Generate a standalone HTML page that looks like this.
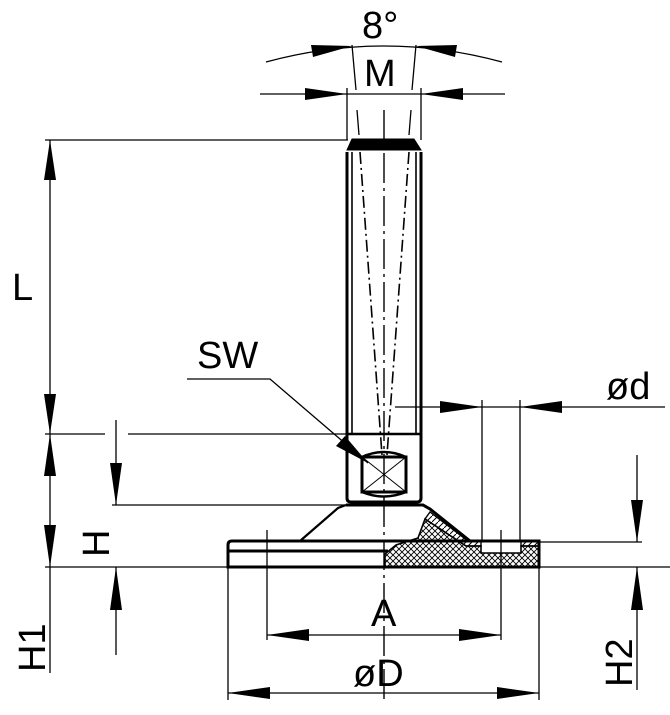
<!DOCTYPE html>
<html><head><meta charset="utf-8"><style>
html,body{margin:0;padding:0;background:#fff;}
svg{display:block;}
text{font-family:"Liberation Sans",sans-serif;fill:#000;}
</style></head><body>
<svg width="670" height="715" viewBox="0 0 670 715" xmlns="http://www.w3.org/2000/svg">
<defs>
<pattern id="xh" width="6" height="6" patternUnits="userSpaceOnUse">
<path d="M0,0 L6,6 M6,0 L0,6" stroke="#000" stroke-width="0.9"/>
</pattern>
<pattern id="hh" width="6" height="6" patternUnits="userSpaceOnUse">
<path d="M0,6 L6,0" stroke="#000" stroke-width="1"/>
</pattern>
</defs>
<g stroke="#000" fill="none" stroke-width="1.6">
<!-- stem -->
<path d="M347,152 L347,498 Q347,502 351,502 L417,502 Q421,502 421,498 L421,152" stroke-width="3"/>
<line x1="352" y1="152" x2="352" y2="434" stroke-width="1.6"/>
<line x1="416" y1="152" x2="416" y2="434" stroke-width="1.6"/>
<path d="M352,139 L414,139 L421,150 L347,150 Z" fill="#000" stroke-width="1"/>
<line x1="347" y1="434" x2="421" y2="434" stroke-width="2.5"/>
<!-- dash-dot lines -->
<line x1="360" y1="152" x2="382" y2="455" stroke-dasharray="12,4,2,4"/>
<line x1="409" y1="152" x2="387" y2="455" stroke-dasharray="12,4,2,4"/>
<line x1="384" y1="110" x2="384" y2="700" stroke-dasharray="30,5,3,5" stroke-width="1.4"/>
<!-- nut -->
<rect x="362" y="457" width="44" height="35" stroke-width="3"/>
<path d="M362,457 Q384,447 406,457 M362,492 Q384,501 406,492" stroke-width="2.5"/>
<line x1="362" y1="457" x2="406" y2="492" stroke-width="1"/>
<line x1="406" y1="457" x2="362" y2="492" stroke-width="1"/>
<!-- base cone -->
<path d="M346,505 L423,505 L430,509 L470,541" stroke-width="3"/>
<path d="M346,505 L338,508 L300,541" stroke-width="2.2"/>
<!-- plate -->
<path d="M232,541 L539,541 L539,567 L228,567 L228,545 Q228,541 232,541" stroke-width="3"/>
<line x1="228" y1="551" x2="388" y2="551" stroke-width="3"/>
<!-- hatched section -->
<path d="M385,567 L385,554 L396,545 L418,538 L425,519 L466,546 L481,546 L481,553 L521,553 L521,546 L539,546 L539,567 Z" fill="url(#xh)" stroke-width="1.6"/>
<path d="M425,519 L466,546 L481,546 L481,541 L468,541 L430,512 Z" fill="url(#hh)" stroke-width="1.4"/>
<path d="M521,541 L539,541 L539,546 L521,546 Z" fill="url(#hh)" stroke-width="1.4"/>
</g>
<g stroke="#000" fill="none" stroke-width="1.3">
<!-- ext lines -->
<line x1="45" y1="140" x2="348" y2="140"/>
<line x1="45" y1="434" x2="105" y2="434"/>
<line x1="128" y1="434" x2="346" y2="434"/>
<line x1="112" y1="505" x2="346" y2="505"/>
<line x1="45" y1="567" x2="670" y2="567"/>
<line x1="539" y1="542" x2="642" y2="542"/>
<!-- L -->
<line x1="50" y1="140" x2="50" y2="434"/>
<line x1="50" y1="434" x2="50" y2="673"/>
<!-- H -->
<line x1="116" y1="420" x2="116" y2="505"/>
<line x1="116" y1="567" x2="116" y2="655"/>
<!-- H2 -->
<line x1="637" y1="455" x2="637" y2="542"/>
<line x1="637" y1="567" x2="637" y2="690"/>
<!-- d -->
<line x1="395" y1="407" x2="665" y2="407"/>
<line x1="482" y1="400" x2="482" y2="541"/>
<line x1="520" y1="400" x2="520" y2="541"/>
<!-- A -->
<line x1="267" y1="530" x2="267" y2="640"/>
<line x1="501" y1="530" x2="501" y2="640"/>
<line x1="267" y1="635" x2="501" y2="635"/>
<!-- D -->
<line x1="228" y1="567" x2="228" y2="700"/>
<line x1="539" y1="567" x2="539" y2="700"/>
<line x1="228" y1="693" x2="539" y2="693"/>
<!-- M -->
<line x1="260" y1="94" x2="505" y2="94"/>
<line x1="347" y1="88" x2="347" y2="140"/>
<line x1="421" y1="88" x2="421" y2="140"/>
<!-- 8 deg -->
<path d="M266,62 Q384,30 502,62"/>
<line x1="352" y1="45" x2="356" y2="90"/>
<line x1="416" y1="45" x2="412" y2="90"/>
<line x1="357" y1="110" x2="359" y2="135"/>
<line x1="411" y1="110" x2="409" y2="135"/>
<!-- SW leader -->
<polyline points="187,379 270,379 368,463"/>
</g>
<g fill="#000">
<!-- L arrows -->
<polygon points="50,140 44,180 56,180"/>
<polygon points="50,434 44,394 56,394"/>
<polygon points="50,434 44,476 56,476"/>
<polygon points="50,567 44,525 56,525"/>
<!-- H -->
<polygon points="116,505 110,463 122,463"/>
<polygon points="116,567 110,610 122,610"/>
<!-- H2 -->
<polygon points="637,542 631,500 643,500"/>
<polygon points="637,567 631,610 643,610"/>
<!-- d -->
<polygon points="482,407 440,401 440,413"/>
<polygon points="520,407 562,401 562,413"/>
<!-- A -->
<polygon points="267,635 309,629 309,641"/>
<polygon points="501,635 459,629 459,641"/>
<!-- D -->
<polygon points="228,693 270,687 270,699"/>
<polygon points="539,693 497,687 497,699"/>
<!-- M -->
<polygon points="347,94 305,88 305,100"/>
<polygon points="421,94 463,88 463,100"/>
<!-- 8 deg -->
<polygon points="352,46 311,45 313,57"/>
<polygon points="416,46 457,45 455,57"/>
<!-- SW -->
<polygon points="368,463 336,446 345,436"/>
</g>
<g font-size="38">
<text x="362" y="38">8°</text>
<text x="364" y="86">M</text>
<text x="12" y="300">L</text>
<text x="197" y="368">SW</text>
<text x="606" y="399">ød</text>
<text x="371" y="626">A</text>
<text x="353" y="686">øD</text>
<text transform="translate(109,557) rotate(-90)">H</text>
<text transform="translate(45,672) rotate(-90)">H1</text>
<text transform="translate(632,687) rotate(-90)">H2</text>
</g>
</svg>
</body></html>
